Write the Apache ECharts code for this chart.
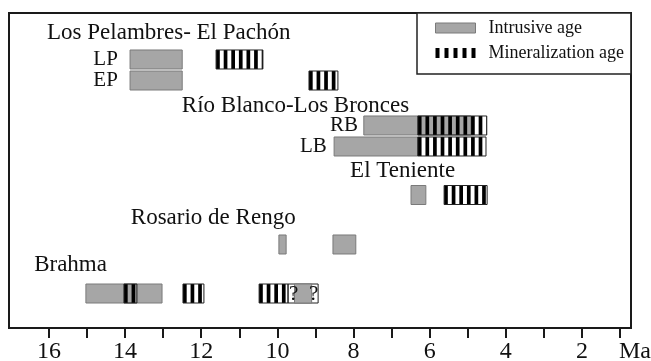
<!DOCTYPE html>
<html>
<head>
<meta charset="utf-8">
<script src="https://cdn.jsdelivr.net/npm/echarts@6/dist/echarts.min.js"></script>
<style>
html,body{margin:0;padding:0;background:#fff;}
#chart{width:651px;height:361px;}
</style>
</head>
<body>
<div id="chart"></div>
<script>
// ---- data (ages in Ma) ----
var rowY = { LP: 14.76, EP: 21.43, RB: 35.71, LB: 42.38, ET: 57.78, RR: 73.49, BR: 89.05 };

var intrusiveAges = [
  ['LP', 13.87, 12.50],
  ['EP', 13.87, 12.50],
  ['RB', 7.73, 4.92],
  ['LB', 8.51, 6.31],
  ['ET', 6.49, 6.10],
  ['RR', 9.96, 9.77],
  ['RR', 8.54, 7.94],
  ['BR', 15.03, 13.03],
  ['BR', 9.55, 9.10]
];
var mineralizationAges = [
  ['LP', 11.61, 10.38],
  ['EP', 9.17, 8.41],
  ['RB', 6.31, 4.50],
  ['LB', 6.31, 4.52],
  ['ET', 5.62, 4.49],
  ['BR', 14.03, 13.69],
  ['BR', 12.48, 11.93],
  ['BR', 10.48, 9.72]
];
var uncertainAges = [
  ['BR', 9.72, 8.93]
];
var questionMarks = [
  ['BR', 9.57],
  ['BR', 9.05]
];
var groupTitles = [
  ['Los Pelambres- El Pachón', 16.05, 6.19],
  ['Río Blanco-Los Bronces', 12.51, 29.52],
  ['El Teniente', 8.09, 50.16],
  ['Rosario de Rengo', 13.85, 65.08],
  ['Brahma', 16.39, 80.0]
];
var rowLabels = [
  ['LP', 14.19],
  ['EP', 14.19],
  ['RB', 7.88],
  ['LB', 8.70]
];
var tickValues = [1,2,3,4,5,6,7,8,9,10,11,12,13,14,15,16];
var tickLabelValues = [16,14,12,10,8,6,4,2,1];
var unitLabel = 'Ma';

// ---- drawing ----
var FONT = '"Liberation Serif", "Times New Roman", serif';
var BAR_H = 19;
var GRAY = '#a6a6a6', GRAY_EDGE = '#7a7a7a';

function toData(arr) {
  return arr.map(function (d) { return [rowY[d[0]], d[1], d[2]]; });
}
function barRect(api) {
  var y = api.value(0);
  var p0 = api.coord([api.value(1), y]);
  var p1 = api.coord([api.value(2), y]);
  var x = Math.min(p0[0], p1[0]);
  var w = Math.abs(p1[0] - p0[0]);
  return { x: x, y: p0[1] - BAR_H / 2, width: w, height: BAR_H };
}

var chart = echarts.init(document.getElementById('chart'), null, { renderer: 'canvas' });

var option = {
  animation: false,
  backgroundColor: '#fff',
  textStyle: { fontFamily: FONT },
  grid: {
    left: 9, right: 20, top: 13, bottom: 33,
    containLabel: false,
    outerBoundsMode: 'none',
    show: true, borderColor: '#1a1a1a', borderWidth: 2, backgroundColor: 'transparent'
  },
  legend: {
    orient: 'vertical',
    left: 417, top: 13,
    padding: [5, 7, 11, 18],
    itemGap: 5,
    itemWidth: 40, itemHeight: 10,
    backgroundColor: '#fff',
    borderColor: '#222', borderWidth: 1.5,
    selectedMode: false,
    textStyle: { fontFamily: FONT, fontSize: 18, color: '#111', lineHeight: 20, padding: [0, 0, 0, 8] },
    data: [
      { name: 'Intrusive age', icon: 'rect', itemStyle: { color: GRAY, borderColor: GRAY_EDGE, borderWidth: 1 } },
      { name: 'Mineralization age', icon: 'path://M0,0h4v10h-4zM9,0h4v10h-4zM18,0h4v10h-4zM27,0h4v10h-4zM36,0h4v10h-4z',
        itemStyle: { color: '#000', borderWidth: 0 } }
    ]
  },
  xAxis: {
    type: 'value',
    inverse: true,
    min: 0.711, max: 17.05,
    splitLine: { show: false },
    axisLine: { show: true, onZero: false, lineStyle: { color: '#1a1a1a', width: 2 } },
    axisTick: { show: true, inside: false, length: 10, lineStyle: { color: '#1a1a1a', width: 2 }, customValues: tickValues },
    axisLabel: {
      customValues: tickLabelValues,
      margin: 12,
      hideOverlap: false,
      fontFamily: FONT, fontSize: 24, color: '#111',
      formatter: function (v) { return v === 1 ? '{u|' + unitLabel + '}' : String(v); },
      rich: { u: { fontFamily: FONT, fontSize: 24, color: '#111', padding: [0, 0, 0, 30] } }
    }
  },
  yAxis: {
    type: 'value', inverse: true, min: 0, max: 100, show: false
  },
  series: [
    {
      name: 'uncertain', type: 'custom', silent: true,
      encode: { x: [1, 2], y: 0 },
      data: toData(uncertainAges),
      renderItem: function (params, api) {
        var r = barRect(api);
        return { type: 'rect', shape: r, style: { fill: '#fff', stroke: '#222', lineWidth: 1 } };
      }
    },
    {
      name: 'Intrusive age', type: 'custom', silent: true,
      itemStyle: { color: GRAY },
      encode: { x: [1, 2], y: 0 },
      data: toData(intrusiveAges),
      renderItem: function (params, api) {
        var r = barRect(api);
        return { type: 'rect', shape: r, style: { fill: GRAY, stroke: GRAY_EDGE, lineWidth: 1 } };
      }
    },
    {
      name: 'Mineralization age', type: 'custom', silent: true,
      itemStyle: { color: '#000' },
      encode: { x: [1, 2], y: 0 },
      data: toData(mineralizationAges),
      renderItem: function (params, api) {
        var r = barRect(api);
        var children = [];
        var period = 7.6, sw = 3.7;
        for (var sx = r.x; sx < r.x + r.width - 0.5; sx += period) {
          children.push({ type: 'rect', shape: { x: sx, y: r.y, width: Math.min(sw, r.x + r.width - sx), height: r.height },
            style: { fill: '#000' } });
        }
        children.push({ type: 'rect', shape: r, style: { fill: 'none', stroke: '#222', lineWidth: 1 } });
        return { type: 'group', children: children };
      }
    },
    {
      name: 'qmarks', type: 'custom', silent: true,
      encode: { x: 1, y: 0 },
      data: questionMarks.map(function (d) { return [rowY[d[0]], d[1]]; }),
      renderItem: function (params, api) {
        var p = api.coord([api.value(1), api.value(0)]);
        return { type: 'text', x: p[0], y: p[1] + 1,
          style: { text: '?', fontFamily: FONT, fontSize: 21, fill: '#111', align: 'center', verticalAlign: 'middle' } };
      }
    },
    {
      name: 'titles', type: 'custom', silent: true,
      encode: { x: 1, y: 2 },
      data: groupTitles,
      renderItem: function (params, api) {
        var d = groupTitles[params.dataIndex];
        var p = api.coord([d[1], d[2]]);
        return { type: 'text', x: p[0], y: p[1],
          style: { text: d[0], fontFamily: FONT, fontSize: 23, fill: '#111', align: 'left', verticalAlign: 'middle' } };
      }
    },
    {
      name: 'rowLabels', type: 'custom', silent: true,
      encode: { x: 1 },
      data: rowLabels,
      renderItem: function (params, api) {
        var d = rowLabels[params.dataIndex];
        var p = api.coord([d[1], rowY[d[0]]]);
        return { type: 'text', x: p[0], y: p[1],
          style: { text: d[0], fontFamily: FONT, fontSize: 21, fill: '#111', align: 'right', verticalAlign: 'middle' } };
      }
    }
  ]
};
chart.setOption(option);
</script>
</body>
</html>
